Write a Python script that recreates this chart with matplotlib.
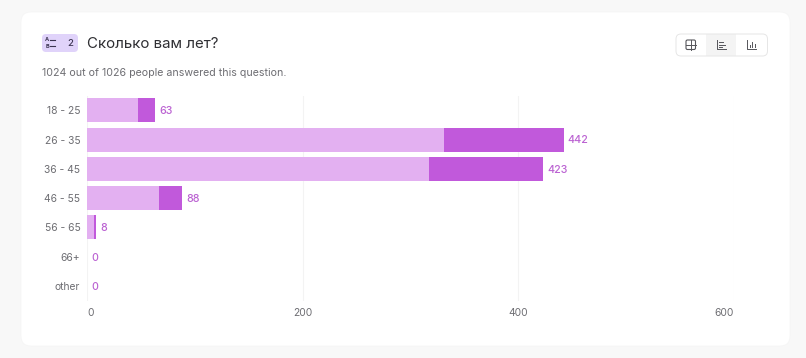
import matplotlib
matplotlib.use("Agg")
import matplotlib.pyplot as plt
from matplotlib.patches import FancyBboxPatch, Rectangle

W, H = 806, 358

# data
categories = ["18 - 25", "26 - 35", "36 - 45", "46 - 55", "56 - 65", "66+", "other"]
light_vals = [47, 331, 317, 67, 6, 0, 0]
dark_vals = [16, 111, 106, 21, 2, 0, 0]
totals = [63, 442, 423, 88, 8, 0, 0]
x_ticks = [0, 200, 400, 600]

title = "Сколько вам лет?"
subtitle = "1024 out of 1026 people answered this question."
badge_num = "2"

plt.rcParams["font.family"] = ["Inter", "Noto Sans", "DejaVu Sans"]

fig = plt.figure(figsize=(W / 100, H / 100), dpi=100, facecolor="#f8f8f8")

# background layer in pixel coords
bg = fig.add_axes([0, 0, 1, 1])
bg.set_xlim(0, W)
bg.set_ylim(H, 0)
bg.axis("off")

bg.add_patch(FancyBboxPatch((21, 12), 769, 334, boxstyle="round,pad=0,rounding_size=10",
                            fc="white", ec="#f5f5f5", lw=0.5))

# badge
bg.add_patch(FancyBboxPatch((42, 34), 36, 18, boxstyle="round,pad=0,rounding_size=4",
                            fc="#e0d3fa", ec="none"))
bg.text(47, 39.8, "A", fontsize=4, color="#3a3350", ha="center", va="center", fontweight="bold")
bg.text(47, 46.3, "B", fontsize=4, color="#3a3350", ha="center", va="center", fontweight="bold")
bg.plot([50, 54.5], [40, 40], color="#3a3350", lw=0.8)
bg.plot([50, 54.5], [46.3, 46.3], color="#3a3350", lw=0.8)
bg.text(70.5, 43.3, badge_num, fontsize=6.8, color="#3a3350", ha="center", va="center", fontweight="medium")

bg.text(87, 44.5, title, fontsize=10.85, color="#2f2f33", ha="left", va="center")
bg.text(42, 72.5, subtitle, fontsize=7.65, color="#6d6d72", ha="left", va="center")

# view switcher
bg.add_patch(Rectangle((706, 34), 30, 22, fc="#f4f4f4", ec="none"))
bg.add_patch(FancyBboxPatch((676, 34), 91.5, 22, boxstyle="round,pad=0,rounding_size=5",
                            fc="none", ec="#e6e6e6", lw=0.7))
ic = "#55555a"
bg.add_patch(FancyBboxPatch((686, 40), 9.5, 9.5, boxstyle="round,pad=0,rounding_size=1.5",
                            fc="none", ec=ic, lw=0.8))
bg.plot([690.75, 690.75], [40, 49.5], color=ic, lw=0.7)
bg.plot([686, 695.5], [44.75, 44.75], color=ic, lw=0.7)
bg.plot([717, 717, 726], [40, 49, 49], color=ic, lw=0.7)
bg.plot([719, 723], [42, 42], color=ic, lw=0.7)
bg.plot([719, 725], [44.5, 44.5], color=ic, lw=0.7)
bg.plot([719, 721.5], [47, 47], color=ic, lw=0.7)
bg.plot([747, 747, 756], [40, 49, 49], color=ic, lw=0.7)
bg.plot([749.5, 749.5], [47, 45], color=ic, lw=0.7)
bg.plot([752, 752], [47, 41.5], color=ic, lw=0.7)
bg.plot([754.5, 754.5], [47, 44], color=ic, lw=0.7)

# chart
left, right, top, bottom = 87.2, 734, 95.7, 300.7
ax = fig.add_axes([left / W, 1 - bottom / H, (right - left) / W, (bottom - top) / H])
ax.patch.set_alpha(0)
ax.set_xlim(0, 600)
ax.set_ylim(len(categories) - 0.5, -0.5)
ypos = list(range(len(categories)))

ax.barh(ypos, light_vals, height=0.82, color="#e3b0f1", zorder=2)
ax.barh(ypos, dark_vals, left=light_vals, height=0.82, color="#c159db", zorder=2)

for y, t in zip(ypos, totals):
    ax.annotate(str(t), (t, y), xytext=(3, -0.6), textcoords="offset points", fontsize=7.7,
                color="#bb62d2", va="center", ha="left", fontweight="medium")

ax.set_yticks(ypos)
ax.set_yticklabels(categories, fontsize=7.4, color="#6d6d72")
ax.set_xticks(x_ticks)
ax.set_xticklabels([str(v) for v in x_ticks], fontsize=7.4, color="#6d6d72")
xlabels = ax.get_xticklabels()
xlabels[0].set_ha("left")
xlabels[-1].set_ha("right")
ax.tick_params(axis="both", length=0)
ax.tick_params(axis="y", pad=5)
ax.tick_params(axis="x", pad=5.5)
ax.grid(axis="x", color="#f3f3f3", lw=0.8, zorder=0)
ax.set_axisbelow(True)
for s in ax.spines.values():
    s.set_visible(False)

fig.savefig("out.png", dpi=100, facecolor=fig.get_facecolor())
